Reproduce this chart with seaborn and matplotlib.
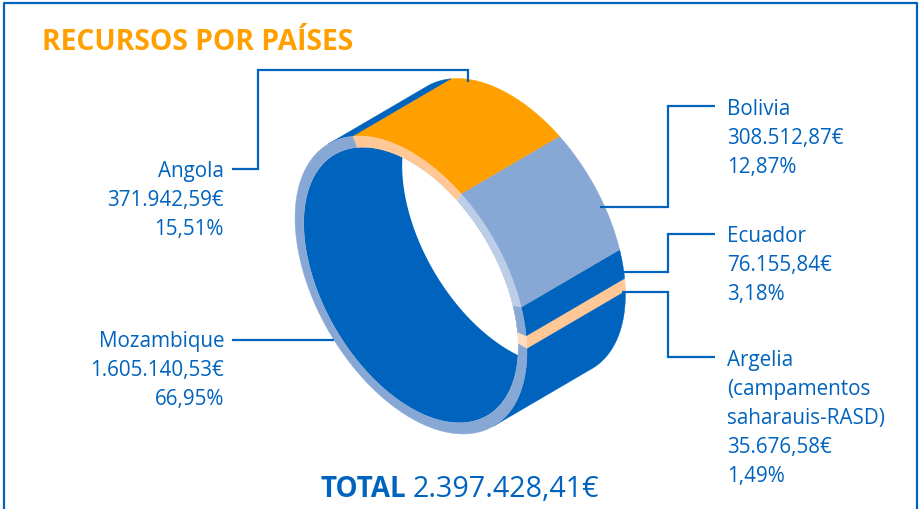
import numpy as np
import matplotlib.pyplot as plt
import matplotlib.patches as mpatches
import seaborn as sns

# datos
paises = ["Argelia", "Ecuador", "Bolivia", "Angola", "Mozambique"]
importes = [35676.58, 76155.84, 308512.87, 371942.59, 1605140.53]
etiquetas = [["Argelia", "(campamentos", "saharauis-RASD)"], ["Ecuador"], ["Bolivia"],
             ["Angola"], ["Mozambique"]]
col_exterior = ["#ffc896", "#0063be", "#87a8d4", "#ffa000", "#0063be"]
col_borde = ["#ffdcc2", "#87a8d4", "#bccde8", "#ffc896", "#87a8d4"]

AZUL = "#0063be"
NARANJA = "#ffa000"


def euros(v):
    s = f"{v:,.2f}".replace(",", "X").replace(".", ",").replace("X", ".")
    return s + "€"


def pct(v):
    return f"{v:.2f}".replace(".", ",") + "%"


sns.set_theme(style="white")
plt.rcParams['font.family'] = ['Open Sans', 'DejaVu Sans']

fig = plt.figure(figsize=(9.21, 5.10), dpi=100)
ax = fig.add_axes([0, 0, 1, 1])
ax.set_xlim(0, 921)
ax.set_ylim(510, 0)
ax.axis("off")

# geometria del anillo (proyeccion ortografica de un cilindro)
cx, cy = 411, 286
A, B = 163.5, 94.4
phi = np.deg2rad(59.7)
u = np.array([np.cos(phi), np.sin(phi)])
v = np.array([np.sin(phi), -np.cos(phi)])
d = 114 * v
r_in = 0.925


def pts(t, rad, z):
    t = np.asarray(t)
    x = cx + rad * (A * np.cos(t) * u[0] + B * np.sin(t) * v[0]) + z * d[0]
    y = cy + rad * (A * np.cos(t) * u[1] + B * np.sin(t) * v[1]) + z * d[1]
    return np.column_stack([x, y])


total = sum(importes)
fracs = np.array(importes) / total
inicio = np.deg2rad(46)
bordes = inicio + np.concatenate([[0], np.cumsum(fracs)]) * 2 * np.pi

# superficie exterior visible
for i in range(len(paises)):
    a, b = bordes[i], bordes[i + 1]
    for k in (0, 2 * np.pi):
        lo, hi = max(a, k), min(b, k + np.pi)
        if hi <= lo:
            continue
        t = np.linspace(lo, hi, 80)
        poly = np.vstack([pts(t, 1, 0), pts(t[::-1], 1, 1)])
        ax.add_patch(mpatches.Polygon(poly, closed=True, fc=col_exterior[i],
                                      ec=col_exterior[i], lw=0.3, zorder=1))

# hueco interior
tt = np.linspace(0, 2 * np.pi, 300)
hueco = mpatches.Polygon(pts(tt, r_in, 0), closed=True, fc=AZUL, ec="none", zorder=2)
ax.add_patch(hueco)
fondo = mpatches.Polygon(pts(tt, r_in, 1), closed=True, fc="white", ec="none", zorder=3)
ax.add_patch(fondo)
fondo.set_clip_path(hueco)

# cara frontal
for i in range(len(paises)):
    t = np.linspace(bordes[i], bordes[i + 1], 120)
    poly = np.vstack([pts(t, 1, 0), pts(t[::-1], r_in, 0)])
    ax.add_patch(mpatches.Polygon(poly, closed=True, fc=col_borde[i],
                                  ec=col_borde[i], lw=0.3, zorder=4))

# lineas guia
guias = {
    "Angola": [(232, 170), (258, 170), (258, 71), (468, 71), (468, 83)],
    "Mozambique": [(232, 341), (334, 341)],
    "Bolivia": [(600, 208), (668, 208), (668, 107), (715, 107)],
    "Ecuador": [(620, 273), (668, 273), (668, 235), (715, 235)],
    "Argelia": [(622, 293), (668, 293), (668, 358), (715, 358)],
}
for p in paises:
    xs, ys = zip(*guias[p])
    ax.plot(xs, ys, color=AZUL, lw=1.6, zorder=6, solid_capstyle="butt",
            solid_joinstyle="miter")

# textos
pos = {
    "Angola": (224, 177, "right"),
    "Mozambique": (224, 347, "right"),
    "Bolivia": (727, 115, "left"),
    "Ecuador": (727, 242, "left"),
    "Argelia": (727, 366, "left"),
}
for i, p in enumerate(paises):
    x, y, ha = pos[p]
    lineas = etiquetas[i] + [euros(importes[i]), pct(100 * fracs[i])]
    for j, s in enumerate(lineas):
        ax.text(x, y + j * 29, s, ha=ha, va="baseline", color=AZUL, fontsize=14.9)

ax.text(42, 50, "RECURSOS POR PAÍSES", color=NARANJA, fontsize=20.3,
        fontweight="bold", va="baseline", ha="left")
ax.text(320, 497, "TOTAL", color=AZUL, fontsize=20, fontweight="bold",
        va="baseline", ha="left")
ax.text(413, 497, euros(total), color=AZUL, fontsize=20.6, va="baseline", ha="left")

# marco
ax.plot([4, 4, 917, 917], [510, 4, 4, 510], color=AZUL, lw=1.6, zorder=6)

fig.savefig("out.png", dpi=100)
